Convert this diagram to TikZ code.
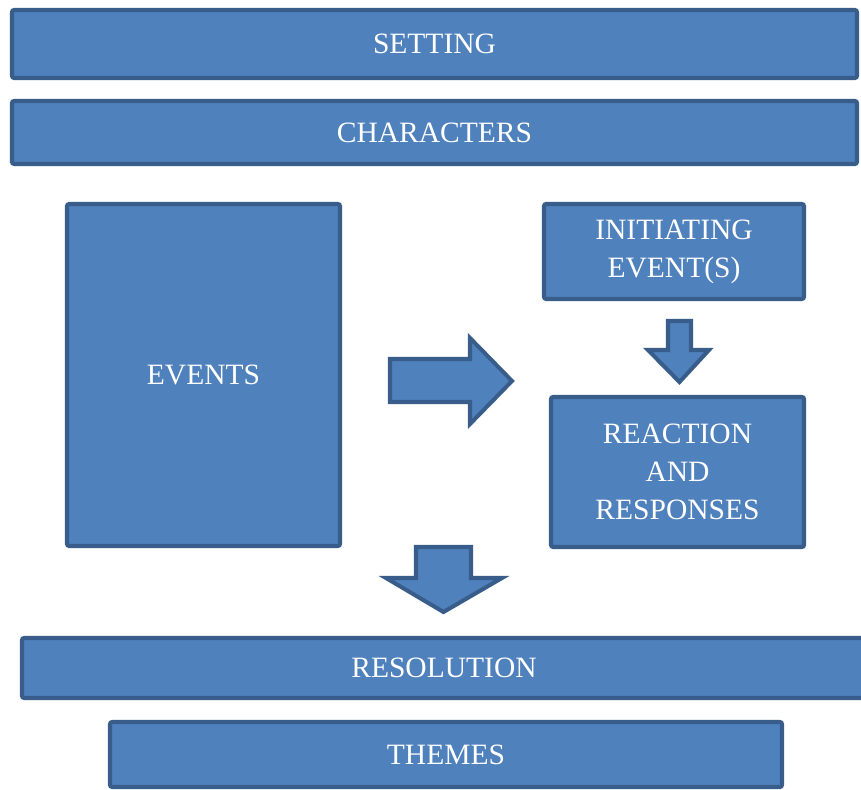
\documentclass[tikz,border=0pt]{standalone}
\usepackage{fontspec}
\setmainfont{Liberation Serif}
\usepackage{tikz}
\usetikzlibrary{positioning}

\definecolor{boxfill}{HTML}{4F81BD}
\definecolor{boxline}{HTML}{385D8A}

\begin{document}
\begin{tikzpicture}[
  box/.style={draw=boxline, fill=boxfill, line width=2.3pt, rounded corners=1.2pt, align=center, text=white, inner sep=0pt, font=\fontsize{16.8}{21.5}\selectfont},
  blockarrow/.style={draw=boxline, fill=boxfill, line width=2.3pt, line join=miter}
]
\useasboundingbox (0,0) rectangle (17.22,-15.80);
\node[box, minimum width=16.90cm, minimum height=1.36cm] (setting) at (8.69,-0.88) {SETTING};
\node[box, minimum width=16.90cm, minimum height=1.26cm] (characters) at (8.69,-2.65) {CHARACTERS};
\node[box, minimum width=5.46cm, minimum height=6.84cm] (events) at (4.07,-7.50) {EVENTS};
\node[box, minimum width=5.20cm, minimum height=1.90cm] (init) at (13.48,-5.03) {INITIATING\\EVENT(S)};
\node[box, minimum width=5.06cm, minimum height=3.00cm] (react) at (13.55,-9.44) {REACTION\\AND\\RESPONSES};
\node[box, minimum width=16.88cm, minimum height=1.20cm] (resolution) at (8.88,-13.36) {RESOLUTION};
\node[box, minimum width=13.44cm, minimum height=1.30cm] (themes) at (8.92,-15.09) {THEMES};
% block arrows
\draw[blockarrow] (7.80,-7.18) -- (9.40,-7.18) -- (9.40,-6.76) -- (10.24,-7.62)
  -- (9.40,-8.48) -- (9.40,-8.04) -- (7.80,-8.04) -- cycle;
\draw[blockarrow] (13.36,-6.42) -- (13.82,-6.42) -- (13.82,-7.00) -- (14.18,-7.00)
  -- (13.59,-7.64) -- (12.96,-7.00) -- (13.36,-7.00) -- cycle;
\draw[blockarrow] (8.32,-10.94) -- (9.42,-10.94) -- (9.42,-11.56) -- (10.04,-11.56)
  -- (8.87,-12.24) -- (7.72,-11.56) -- (8.32,-11.56) -- cycle;
\end{tikzpicture}
\end{document}
